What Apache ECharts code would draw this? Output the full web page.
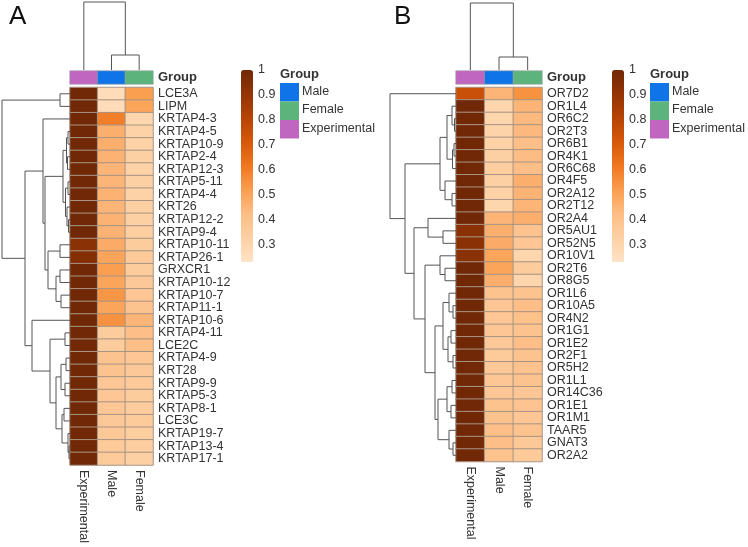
<!DOCTYPE html>
<html><head><meta charset="utf-8">
<script src="https://cdn.jsdelivr.net/npm/echarts@6/dist/echarts.min.js"></script>
<style>html,body{margin:0;padding:0;background:#fff}#c{width:748px;height:547px}</style>
</head><body><div id="c"></div>
<script>
// ---------- data ----------
const groups = ['Experimental', 'Male', 'Female'];
const groupColors = ['#c066c0', '#0f74e8', '#5cb47c'];
const legendGroups = ['Male', 'Female', 'Experimental'];
const legendColors = ['#0f74e8', '#5cb47c', '#c066c0'];
const colorTicks = [0.3, 0.4, 0.5, 0.6, 0.7, 0.8, 0.9, 1];
const colorMin = 0.232, colorMax = 1;

const genesA = ['LCE3A','LIPM','KRTAP4-3','KRTAP4-5','KRTAP10-9','KRTAP2-4','KRTAP12-3','KRTAP5-11','KRTAP4-4','KRT26',
  'KRTAP12-2','KRTAP9-4','KRTAP10-11','KRTAP26-1','GRXCR1','KRTAP10-12','KRTAP10-7','KRTAP11-1','KRTAP10-6','KRTAP4-11',
  'LCE2C','KRTAP4-9','KRT28','KRTAP9-9','KRTAP5-3','KRTAP8-1','LCE3C','KRTAP19-7','KRTAP13-4','KRTAP17-1'];
const expA    = [1,1,1,1,1,1,1,1,1,1, 1,1,0.93,0.95,1,1,1,1,1,1, 1,1,1,1,1,1,1,1,1,1];
const maleA   = [0.27,0.27,0.6,0.47,0.47,0.46,0.45,0.45,0.46,0.45, 0.46,0.46,0.48,0.5,0.52,0.5,0.54,0.5,0.55,0.35,
                 0.35,0.4,0.4,0.38,0.38,0.38,0.37,0.37,0.36,0.36];
const femaleA = [0.52,0.5,0.3,0.32,0.32,0.33,0.32,0.33,0.32,0.33, 0.33,0.34,0.35,0.36,0.35,0.37,0.38,0.4,0.45,0.42,
                 0.42,0.38,0.37,0.36,0.35,0.35,0.36,0.34,0.34,0.33];

const genesB = ['OR7D2','OR1L4','OR6C2','OR2T3','OR6B1','OR4K1','OR6C68','OR4F5','OR2A12','OR2T12',
  'OR2A4','OR5AU1','OR52N5','OR10V1','OR2T6','OR8G5','OR1L6','OR10A5','OR4N2','OR1G1',
  'OR1E2','OR2F1','OR5H2','OR1L1','OR14C36','OR1E1','OR1M1','TAAR5','GNAT3','OR2A2'];
const expB    = [0.75,1,1,1,1,1,1,1,1,1, 1,0.93,0.93,0.93,1,1,1,1,1,1, 1,1,1,1,1,1,1,1,1,1];
const maleB   = [0.45,0.3,0.3,0.31,0.32,0.33,0.34,0.33,0.32,0.3, 0.45,0.47,0.48,0.5,0.5,0.47,0.4,0.38,0.38,0.38,
                 0.37,0.36,0.37,0.38,0.38,0.4,0.4,0.42,0.42,0.4];
const femaleB = [0.55,0.45,0.44,0.44,0.42,0.43,0.42,0.47,0.46,0.45, 0.47,0.4,0.38,0.3,0.35,0.3,0.4,0.42,0.41,0.4,
                 0.42,0.4,0.4,0.4,0.38,0.39,0.38,0.4,0.37,0.36];

// dendrograms: [mergeHeight, left, right]; leaves are row / column indices
const rowTreeA = [68, [10, 0, 1],
  [45,
    [27, 2, [25,
      [7, [3.5, [2, 3, 4], [2.5, 5, 6]], [4.5, [2, 7, 8], [3, 9, [1.5, 10, 11]]]],
      [22, [10, 12, 13], [14, [10, 14, 15], [9, 16, 17]]]]],
    [38, 18, [20, [5, 19, 20],
      [14, [9, [4, 21, 22], [5, 23, 24]], [8, [6, 25, 26], [2, 27, [1, 28, 29]]]]]]]];
const colTreeA = [68, 0, [15, 1, 2]];

const rowTreeB = [66, 0,
  [51,
    [16, [9, [4, 1, [1.5, 2, 3]], [3.5, [2, 4, 5], 6]], [11, 7, [4, 8, 9]]],
    [42,
      [28, 10, [13, 11, 12]],
      [31, [16, 13, [11, 14, 15]],
        [21, [13, [7, 16, [3, 17, 18]], [8, [5, 19, 20], [3, 21, 22]]],
             [18, [9, [4, 23, 24], [5, 25, 26]], [7, 27, [3, 28, 29]]]]]]]];
const colTreeB = [67, 0, [13, 1, 2]];

// ---------- helpers ----------
const FONT = '"Liberation Sans", Arial, sans-serif';
const rampColors = ['#fee3c6', '#fdd0a4', '#fdbe86', '#fa9e50', '#ef7720', '#d6580a', '#b64406', '#943405', '#702806'];

function dendroSegments(tree) {
  const segs = [];
  (function walk(n) {
    if (typeof n === 'number') return { pos: n + 0.5, h: 0 };
    const a = walk(n[1]), b = walk(n[2]);
    segs.push([a.pos, a.h, b.pos, b.h, n[0]]);
    return { pos: (a.pos + b.pos) / 2, h: n[0] };
  })(tree);
  return segs;
}
function dendroSeries(tree, gridIdx, horizontal) {
  return {
    type: 'custom', xAxisIndex: gridIdx, yAxisIndex: gridIdx, silent: true,
    data: dendroSegments(tree),
    encode: horizontal ? { x: [1, 3, 4], y: [0, 2] } : { x: [0, 2], y: [1, 3, 4] },
    renderItem(params, api) {
      const pA = api.value(0), hA = api.value(1), pB = api.value(2), hB = api.value(3), h = api.value(4);
      const c = horizontal ? (hh, p) => api.coord([hh, p]) : (hh, p) => api.coord([p, hh]);
      return { type: 'polyline', shape: { points: [c(hA, pA), c(h, pA), c(h, pB), c(hB, pB)] },
               style: { stroke: '#555', lineWidth: 1, fill: null } };
    }
  };
}
function cells(exp, male, female) {
  const d = [];
  [exp, male, female].forEach((col, j) => col.forEach((v, i) => d.push([j, i, v])));
  return d;
}

const grids = [], xAxes = [], yAxes = [], series = [], visualMaps = [], graphics = [];
function hiddenValAxis(min, max, inverse) {
  return { type: 'value', min, max, inverse: !!inverse, show: false };
}

function panel(o) {
  const n = grids.length;
  // 0: heatmap
  grids.push({ left: o.hx, top: o.hy, width: o.hw, height: o.hh });
  xAxes.push({ type: 'category', gridIndex: n, data: groups, position: 'bottom',
    axisLine: { show: false }, axisTick: { show: false }, splitLine: { show: false },
    axisLabel: { interval: 0, rotate: -90, margin: 5, fontSize: 12.5, color: '#333', fontFamily: FONT } });
  yAxes.push({ type: 'category', gridIndex: n, data: o.genes, inverse: true, position: 'right',
    axisLine: { show: false }, axisTick: { show: false }, splitLine: { show: false },
    axisLabel: { interval: 0, margin: 5, fontSize: 12.5, color: '#333', fontFamily: FONT } });
  const hmIdx = series.length;
  series.push({ type: 'heatmap', xAxisIndex: n, yAxisIndex: n, data: cells(o.exp, o.male, o.female),
    itemStyle: { borderColor: '#a89484', borderWidth: 1 }, emphasis: { disabled: true } });
  visualMaps.push({ type: 'continuous', seriesIndex: hmIdx, min: colorMin, max: colorMax,
    inRange: { color: rampColors }, orient: 'vertical', left: o.cbx - 5, top: o.cby - 5,
    itemWidth: 12, itemHeight: o.cbh, calculable: false, hoverLink: false, text: null, padding: 5 });
  // 1: group bar
  grids.push({ left: o.hx, top: o.gy, width: o.hw, height: 13 });
  xAxes.push({ type: 'category', gridIndex: n + 1, data: groups, show: false });
  yAxes.push({ type: 'category', gridIndex: n + 1, data: ['Group'], position: 'right',
    axisLine: { show: false }, axisTick: { show: false },
    axisLabel: { margin: 5, fontSize: 13, fontWeight: 'bold', color: '#333', fontFamily: FONT } });
  series.push({ type: 'heatmap', xAxisIndex: n + 1, yAxisIndex: n + 1,
    data: groups.map((g, j) => ({ value: [j, 0, j], itemStyle: { color: groupColors[j] } })),
    itemStyle: { borderColor: '#a0a0a0', borderWidth: 0.6 }, emphasis: { disabled: true } });
  // 2: row dendrogram
  grids.push({ left: o.rdx, top: o.hy, width: o.hx - o.rdx, height: o.hh });
  xAxes.push(Object.assign({ gridIndex: n + 2 }, hiddenValAxis(0, o.rowTree[0], true)));
  yAxes.push(Object.assign({ gridIndex: n + 2 }, hiddenValAxis(0, o.genes.length, true)));
  series.push(dendroSeries(o.rowTree, n + 2, true));
  // 3: column dendrogram
  grids.push({ left: o.hx, top: o.cdy, width: o.hw, height: 70 - o.cdy });
  xAxes.push(Object.assign({ gridIndex: n + 3 }, hiddenValAxis(0, groups.length)));
  yAxes.push(Object.assign({ gridIndex: n + 3 }, hiddenValAxis(0, o.colTree[0])));
  series.push(dendroSeries(o.colTree, n + 3, false));
  // 4: colour bar tick labels
  grids.push({ left: o.cbx, top: o.cby, width: 12, height: o.cbh });
  xAxes.push({ type: 'value', gridIndex: n + 4, min: 0, max: 1, show: false });
  yAxes.push({ type: 'value', gridIndex: n + 4, min: colorMin, max: colorMax, position: 'right',
    axisLine: { show: false }, axisTick: { show: false }, splitLine: { show: false },
    axisLabel: { margin: 5, fontSize: 12.5, color: '#333', fontFamily: FONT, customValues: colorTicks,
      formatter: v => String(Math.round(v * 10) / 10) } });
  // group legend
  graphics.push({ type: 'text', left: o.lx, top: 68, style: { text: 'Group', font: 'bold 13px ' + FONT, fill: '#333' } });
  legendGroups.forEach((g, k) => {
    graphics.push({ type: 'rect', shape: { x: o.lx, y: 83 + k * 18.5, width: 19, height: 18.5 },
      style: { fill: legendColors[k] } });
    graphics.push({ type: 'text', left: o.lx + 22, top: 85 + k * 18.5,
      style: { text: g, font: '12.5px ' + FONT, fill: '#333' } });
  });
  graphics.push({ type: 'text', left: o.letterX, top: 4, style: { text: o.letter, font: '26px ' + FONT, fill: '#111' } });
}

panel({ letter: 'A', letterX: 9, genes: genesA, exp: expA, male: maleA, female: femaleA,
  rowTree: rowTreeA, colTree: colTreeA,
  hx: 70, hy: 87.5, hw: 83, hh: 377.5, gy: 71, rdx: 2, cdy: 2,
  cbx: 241, cby: 70, cbh: 192, lx: 280 });
panel({ letter: 'B', letterX: 394, genes: genesB, exp: expB, male: maleB, female: femaleB,
  rowTree: rowTreeB, colTree: colTreeB,
  hx: 456, hy: 87.5, hw: 86, hh: 374, gy: 71, rdx: 390, cdy: 3,
  cbx: 612, cby: 70, cbh: 192, lx: 650 });

const chart = echarts.init(document.getElementById('c'), null, { renderer: 'canvas' });
chart.setOption({
  animation: false, backgroundColor: '#fff',
  textStyle: { fontFamily: FONT },
  grid: grids, xAxis: xAxes, yAxis: yAxes, series, visualMap: visualMaps, graphic: graphics
});
</script></body></html>
